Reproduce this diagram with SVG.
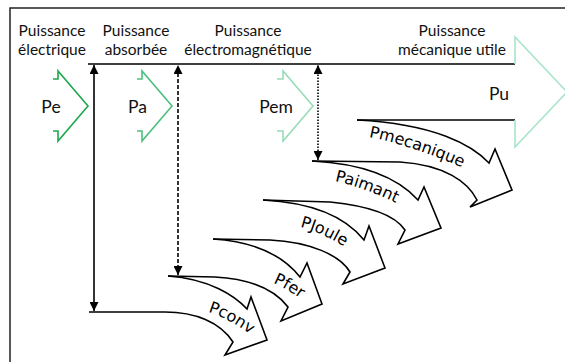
<svg xmlns="http://www.w3.org/2000/svg" width="565" height="362" viewBox="0 0 565 362">
<defs>
<style>
.frame{fill:none;stroke:#222;stroke-width:1.5}
.ln{fill:none;stroke:#000;stroke-width:1.6}
.flow{fill:none;stroke:#000;stroke-width:1.6;stroke-linejoin:miter}
.chev{fill:none;stroke-width:1.6;stroke-linejoin:miter}
.hd{font-family:Lato,"Liberation Sans",sans-serif;font-size:15.5px;fill:#111;text-anchor:middle}
.pl{font-family:Lato,"Liberation Sans",sans-serif;font-size:17.5px;fill:#111;text-anchor:middle}
.cl{font-family:"DejaVu Sans",sans-serif;font-size:16px;fill:#000}
</style>
<marker id="ah" viewBox="0 0 10 10" refX="10" refY="5" markerWidth="9" markerHeight="9" markerUnits="userSpaceOnUse" orient="auto-start-reverse"><path d="M0,0 L10,5 L0,10 z" fill="#000"/></marker>
<path id="tpMeca" d="M369,137 Q415,146 475,173"/>
<path id="tpAim" d="M335,181 Q368,188 410,210"/>
<path id="tpJoule" d="M300,227 Q325,233 356,254"/>
<path id="tpFer" d="M273,283 Q290,290 312,307"/>
<path id="tpConv" d="M208,312 Q232,319 260,342"/>
</defs>
<rect class="frame" x="10" y="8" width="600" height="400"/>
<g id="flows">
<g id="Pconv"><path class="flow" d="M89,312 L165,312 C195,312 220,322 233,342 L225,355 L267,340 L251,297 L247,309 C235,296 210,279 168,276"/><text class="cl"><textPath href="#tpConv">Pconv</textPath></text></g>
<g id="Pfer"><path class="flow" d="M168,276 L215,277 C250,279 275,290 288,307 L281,321 L322,304 L307,263 L300,277 C285,258 260,242 213,239"/><text class="cl"><textPath href="#tpFer">Pfer</textPath></text></g>
<g id="PJoule"><path class="flow" d="M213,239 L270,240 C310,242 340,255 350,272 L343,284 L385,268 L369,226 L364,240 C348,220 320,203 263,200"/><text class="cl"><textPath href="#tpJoule">PJoule</textPath></text></g>
<g id="Paimant"><path class="flow" d="M263,200 L330,202 C370,206 395,215 405,230 L398,244 L441,228 L424,187 L418,200 C400,180 370,164 312,161"/><text class="cl"><textPath href="#tpAim">Paimant</textPath></text></g>
<g id="Pmecanique"><path class="flow" d="M312,161 L400,162 C445,165 468,182 477,200 L470,207 L512,190 L495,149 L489,163 C472,145 435,124 357,120"/><text class="cl"><textPath href="#tpMeca">Pmecanique</textPath></text></g>
</g>
<g id="Pu">
<path class="ln" d="M88,64 L515,64 M357,120 L515,120"/>
<path class="chev" stroke="#a8e4c8" d="M515,64 L515,37 L567,92 L515,147 L515,120"/>
<text class="pl" x="499" y="100">Pu</text>
</g>
<g id="Pe"><path class="chev" stroke="#1ea84e" d="M53,79 L58,79 L58,71 L88,106 L58,141 L58,131 L53,131"/><text class="pl" x="51" y="113">Pe</text></g>
<g id="Pa"><path class="chev" stroke="#4dc07e" d="M137,79 L142,79 L142,71 L172,106 L142,141 L142,131 L137,131"/><text class="pl" x="137.5" y="113">Pa</text></g>
<g id="Pem"><path class="chev" stroke="#98dcb8" d="M277,79 L283,79 L283,71 L313,106 L283,141 L283,131 L277,131"/><text class="pl" x="276" y="113">Pem</text></g>
<g id="connectors">
<line class="ln" x1="94" y1="311" x2="94" y2="65" marker-start="url(#ah)" marker-end="url(#ah)"/>
<line class="ln" x1="178" y1="275" x2="178" y2="65" stroke-dasharray="4,2" marker-start="url(#ah)" marker-end="url(#ah)"/>
<line class="ln" x1="318" y1="160" x2="318" y2="65" stroke-dasharray="1.5,1.5" marker-start="url(#ah)" marker-end="url(#ah)"/>
</g>
<g id="headers">
<text class="hd" x="52" y="36">Puissance<tspan x="52" y="55">électrique</tspan></text>
<text class="hd" x="136" y="36">Puissance<tspan x="136" y="55">absorbée</tspan></text>
<text class="hd" x="248" y="36">Puissance<tspan x="248" y="55">électromagnétique</tspan></text>
<text class="hd" x="452" y="36">Puissance<tspan x="452" y="55">mécanique utile</tspan></text>
</g>
</svg>
